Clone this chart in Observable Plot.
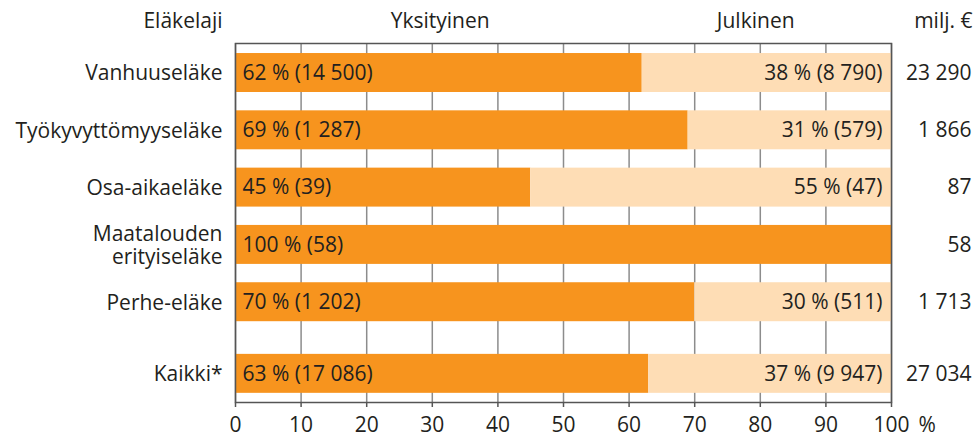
<!DOCTYPE html>
<html>
<head>
<meta charset="utf-8">
<script src="https://cdn.jsdelivr.net/npm/d3@7"></script>
<script src="https://cdn.jsdelivr.net/npm/@observablehq/plot@0.6"></script>
<style>
  html, body { margin: 0; padding: 0; background: #fff; }
  svg { display: block; }
</style>
</head>
<body>
<div id="chart"></div>
<script>
const categories = ["Vanhuuseläke", "Työkyvyttömyyseläke", "Osa-aikaeläke", "Maatalouden\nerityiseläke", "Perhe-eläke", "Kaikki*"];
const yksityinenPct = [62, 69, 45, 100, 70, 63];
const julkinenPct = [38, 31, 55, 0, 30, 37];
const yksityinenMilj = ["14 500", "1 287", "39", "58", "1 202", "17 086"];
const julkinenMilj = ["8 790", "579", "47", "", "511", "9 947"];
const totals = ["23 290", "1 866", "87", "58", "1 713", "27 034"];
const xTicks = [0, 10, 20, 30, 40, 50, 60, 70, 80, 90, 100];
const headers = ["Eläkelaji", "Yksityinen", "Julkinen", "milj. €"];

const ORANGE = "#F7941E";
const PEACH = "#FEDDB5";
const INK = "#231F20";
const FONT = "'Open Sans', sans-serif";
const FS = 21;

// row slot: the summary row "Kaikki*" is set slightly apart from the rest
const rows = categories.map((c, i) => ({
  cat: c,
  slot: i + (c === "Kaikki*" ? 0.25 : 0),
  yk: yksityinenPct[i],
  ju: julkinenPct[i],
  ykLabel: `${yksityinenPct[i]} % (${yksityinenMilj[i]})`,
  juLabel: julkinenPct[i] > 0 ? `${julkinenPct[i]} % (${julkinenMilj[i]})` : "",
  total: totals[i]
}));
const half = 0.34;

const chart = Plot.plot({
  width: 976,
  height: 437,
  marginLeft: 235,
  marginRight: 85,
  marginTop: 43,
  marginBottom: 35,
  style: { fontFamily: FONT, fontSize: FS + "px", color: INK, background: "#fff" },
  x: { domain: [0, 100], axis: null },
  y: { domain: [5.75, -0.515], axis: null },
  marks: [
    Plot.ruleX(xTicks, { stroke: "#8c8c8c", strokeWidth: 1.5 }),
    Plot.rect(rows, { x1: 0, x2: "yk", y1: d => d.slot - half, y2: d => d.slot + half, fill: ORANGE }),
    Plot.rect(rows.filter(d => d.ju > 0), { x1: "yk", x2: 100, y1: d => d.slot - half, y2: d => d.slot + half, fill: PEACH }),
    Plot.frame({ stroke: "#555", strokeWidth: 1.5 }),
    Plot.axisX(xTicks, { anchor: "bottom", label: null, tickSize: 5, tickPadding: 10, stroke: "#555", strokeWidth: 1.5, fill: INK, fontSize: FS, tickFormat: d => String(d) }),
    Plot.text(["%"], { x: 100, frameAnchor: "bottom", lineAnchor: "top", dy: 15, dx: 27, textAnchor: "start", fill: INK, fontSize: FS }),
    Plot.text(rows, { x: 0, y: "slot", text: "ykLabel", dx: 7, textAnchor: "start", fill: INK, fontSize: FS }),
    Plot.text(rows, { x: 100, y: "slot", text: "juLabel", dx: -9, textAnchor: "end", fill: INK, fontSize: FS }),
    Plot.text(rows, { x: 100, y: "slot", text: "total", dx: 80, textAnchor: "end", fill: INK, fontSize: FS }),
    Plot.text(rows, { x: 0, y: "slot", text: "cat", dx: -13, textAnchor: "end", fill: INK, fontSize: FS, lineHeight: 1.1 }),
    Plot.text([headers[0]], { x: 0, frameAnchor: "top", lineAnchor: "middle", dy: -22, dx: -13, textAnchor: "end", fill: INK, fontSize: FS }),
    Plot.text([headers[1]], { x: 31.2, frameAnchor: "top", lineAnchor: "middle", dy: -22, fill: INK, fontSize: FS }),
    Plot.text([headers[2]], { x: 79.3, frameAnchor: "top", lineAnchor: "middle", dy: -22, fill: INK, fontSize: FS }),
    Plot.text([headers[3]], { x: 100, frameAnchor: "top", lineAnchor: "middle", dy: -22, dx: 81, textAnchor: "end", fill: INK, fontSize: FS })
  ]
});
document.getElementById("chart").appendChild(chart);
</script>
</body>
</html>
